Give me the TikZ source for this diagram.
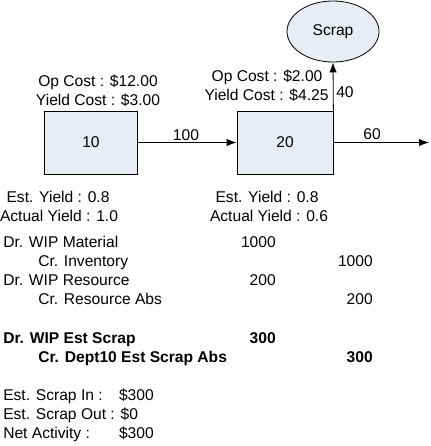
\documentclass[tikz,border=0pt]{standalone}
\usepackage{fontspec}
\setmainfont{Liberation Sans}
\usetikzlibrary{arrows.meta,shapes.geometric}
\definecolor{boxfill}{HTML}{E8ECF5}
\tikzset{
  txt/.style={inner sep=0pt, font=\fontsize{11.7}{14}\selectfont},
  lft/.style={txt, anchor=base west},
  rgt/.style={txt, anchor=base east},
  ctr/.style={txt, anchor=base},
  bold/.style={font=\fontsize{11.7}{14}\selectfont\bfseries},
  bx/.style={draw=black, fill=boxfill, line width=0.6pt, rectangle, inner sep=0pt,
    minimum height=47.25pt, font=\fontsize{11.7}{14}\selectfont},
  conn/.style={draw=black, line width=0.6pt, -{Latex[length=7.5pt,width=5.5pt]}},
}
\begin{document}
\begin{tikzpicture}[x=0.75pt,y=-0.75pt]
\path[use as bounding box] (0,0) rectangle (430,446);
% boxes
\node[bx, minimum width=69.75pt] (b10) at (91,142.5) {10};
\node[bx, minimum width=72pt] (b20) at (285,142.5) {20};
\node[ellipse, draw=black, fill=boxfill, line width=0.6pt, inner sep=0pt,
  minimum width=69pt, minimum height=45.75pt, font=\fontsize{11.7}{14}\selectfont] (scrap) at (333,31.5) {Scrap};
\coordinate (out) at (429,142.5);
% connectors
\draw[conn] (b10.east) -- (b20.west);
\draw[conn] (b20.east) -- (out);
\draw[conn] (b20.north east) -- (scrap.south);
% connector labels
\node[ctr] (l100) at (186,140) {100};
\node[ctr] (l60) at (372,139) {60};
\node[lft] (l40) at (336,97) {40};
% cost labels
\node[ctr] (op1) at (98,86) {Op Cost : \$12.00};
\node[ctr] (yc1) at (98,105) {Yield Cost : \$3.00};
\node[ctr] (op2) at (267,81) {Op Cost : \$2.00};
\node[ctr] (yc2) at (266.5,100) {Yield Cost : \$4.25};
% yields
\node[ctr] (ey1) at (58,202) {Est. Yield : 0.8};
\node[ctr] (ay1) at (59,221) {Actual Yield : 1.0};
\node[ctr] (ey2) at (267,202) {Est. Yield : 0.8};
\node[ctr] (ay2) at (269,221) {Actual Yield : 0.6};
% journal
\node[lft] (j1) at (3,247) {Dr. WIP Material};
\node[rgt] (j1v) at (276,247) {1000};
\node[lft] (j2) at (38,266) {Cr. Inventory};
\node[rgt] (j2v) at (373,266) {1000};
\node[lft] (j3) at (3,285) {Dr. WIP Resource};
\node[rgt] (j3v) at (276,285) {200};
\node[lft] (j4) at (38,304) {Cr. Resource Abs};
\node[rgt] (j4v) at (373,304) {200};
\node[lft, bold] (j5) at (3,343) {Dr. WIP Est Scrap};
\node[rgt, bold] (j5v) at (276,343) {300};
\node[lft, bold] (j6) at (38,362) {Cr. Dept10 Est Scrap Abs};
\node[rgt, bold] (j6v) at (373,362) {300};
% summary
\node[lft] (s1) at (3,400) {Est. Scrap In :};
\node[rgt] (s1v) at (154,400) {\$300};
\node[lft] (s2) at (3,419) {Est. Scrap Out : \$0};
\node[lft] (s3) at (3,438) {Net Activity :};
\node[rgt] (s3v) at (154,438) {\$300};
\end{tikzpicture}
\end{document}
